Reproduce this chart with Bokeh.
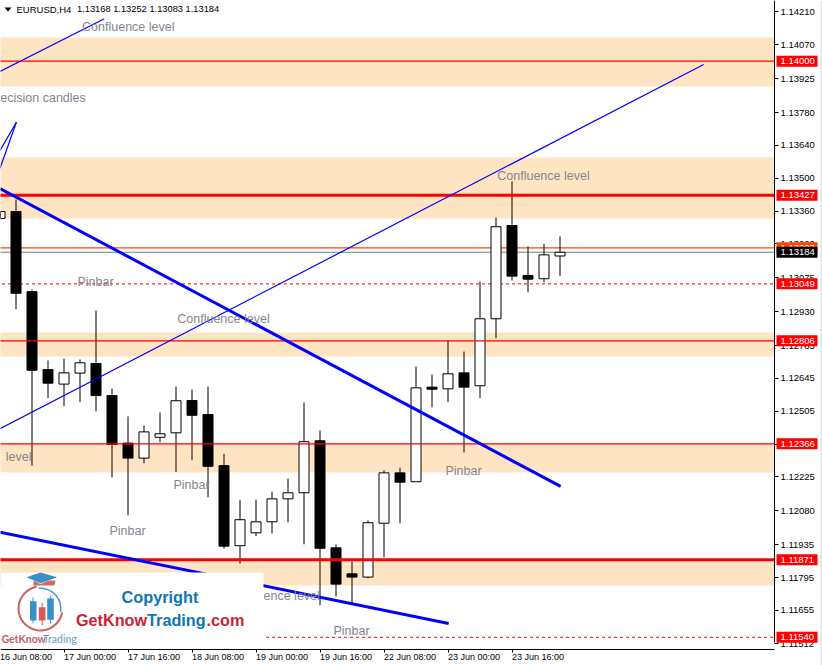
import math
from bokeh.plotting import figure
from bokeh.embed import file_html
from bokeh.resources import INLINE
from bokeh.core.properties import value
from bokeh.models import (ColumnDataSource, FixedTicker, NumeralTickFormatter, Label, LabelSet,
                          BoxAnnotation, PolyAnnotation)

# ---- data ----
opens = [1.13328,1.13358,1.13016,1.12683,1.12621,1.12668,1.12709,1.12572,1.12369,1.12305,1.12394,1.12413,
         1.12551,1.12491,1.12273,1.11931,1.11986,1.12033,1.12131,1.12157,1.12379,1.11922,1.11811,1.11797,
         1.12027,1.12242,1.12204,1.12608,1.12601,1.12669,1.12614,1.12900,1.13298,1.13085,1.13071,1.13168]
highs = [1.13358,1.13409,1.13025,1.12722,1.12730,1.12726,1.12935,1.12602,1.12483,1.12444,1.12500,1.12610,
         1.12598,1.12610,1.12323,1.12127,1.12128,1.12162,1.12218,1.12543,1.12423,1.11936,1.11864,1.12039,
         1.12252,1.12264,1.12696,1.12662,1.12807,1.12760,1.13059,1.13332,1.13486,1.13209,1.13220,1.13252]
lows = [1.13328,1.12941,1.12273,1.12561,1.12527,1.12544,1.12505,1.12223,1.12061,1.12283,1.12373,1.12245,
        1.12296,1.12138,1.11919,1.11854,1.11972,1.11984,1.12031,1.11937,1.11677,1.11714,1.11683,1.11792,
        1.11882,1.12027,1.12204,1.12522,1.12544,1.12329,1.12561,1.12817,1.13063,1.13013,1.13056,1.13083]
closes = [1.13358,1.13009,1.12680,1.12625,1.12669,1.12712,1.12572,1.12364,1.12305,1.12417,1.12409,1.12550,
          1.12488,1.12270,1.11929,1.12042,1.12033,1.12131,1.12157,1.12375,1.11920,1.11767,1.11797,1.12029,
          1.12242,1.12202,1.12605,1.12599,1.12665,1.12608,1.12900,1.13293,1.13082,1.13069,1.13173,1.13184]

zone_tops = [1.14101,1.13589,1.12841,1.12366,1.11871]
zone_bottoms = [1.13892,1.13328,1.12739,1.12244,1.11761]

thin_levels = [1.14000,1.12806,1.12366]
thick_levels = [1.13427,1.11871]
dashed_levels = [1.13049,1.11540]
ask_level = 1.13203
bid_level = 1.13184

y_ticks = [1.14210,1.14070,1.13925,1.13780,1.13640,1.13500,1.13360,1.13220,1.13075,1.12930,1.12785,1.12645,
           1.12505,1.12365,1.12225,1.12080,1.11935,1.11795,1.11655,1.11512]
time_ticks = [0,4,8,12,16,20,24,28,32]
time_labels = ["16 Jun 08:00","17 Jun 00:00","17 Jun 16:00","18 Jun 08:00","19 Jun 00:00",
               "19 Jun 16:00","22 Jun 08:00","23 Jun 00:00","23 Jun 16:00"]

thin_x0 = [0.0,0.0,0.0,0.0]
thin_y0 = [1.13956,1.13542,1.13619,1.12431]
thin_x1 = [6.52,1.025,1.025,43.98]
thin_y1 = [1.14181,1.13739,1.13739,1.13986]
thick_x0 = [0.0,0.0]
thick_y0 = [1.13456,1.11989]
thick_x1 = [35.04,28.04]
thick_y1 = [1.12184,1.11599]

note_text = ["Confluence level","ecision candles","Pinbar","Confluence level","level","Pinbar",
             "Pinbar","ence level","Pinbar","Pinbar","Confluence level"]
note_x = [5.13,0.02,4.84,11.08,0.36,10.84,6.84,16.47,20.84,27.84,31.08]
note_y = [1.14144,1.13841,1.13055,1.12897,1.12309,1.12192,1.11992,1.11718,1.11566,1.12248,1.13509]

# ---- layout constants ----
W, H = 822, 665
X0 = 0.5 / 16
X_LEFT = -1
X_AXIS = 774.5 / 16
X1 = 822.5 / 16
Y_TOP = 1.14259
PRICE_PER_PX = 0.0000427
Y_BOT = Y_TOP - H * PRICE_PER_PX
Y_AXIS = Y_TOP - 648.5 * PRICE_PER_PX
BODY = 10 / 16
ZONE = "#FFE4C4"
BLUE = "#0000FF"
RED = "#FF0000"
TICK_FONT = "Liberation Sans"

p = figure(width=W, height=H, output_backend="svg", toolbar_location=None,
           x_range=(X0, X1), y_range=(Y_BOT, Y_TOP), x_axis_location="below", y_axis_location="right",
           min_border=0, min_border_left=0, min_border_right=0, min_border_top=0, min_border_bottom=0,
           background_fill_color="white", border_fill_color="white", outline_line_color=None)
p.grid.visible = False

ax = p.yaxis[0]
ax.fixed_location = X_AXIS
ax.ticker = FixedTicker(ticks=y_ticks)
ax.formatter = NumeralTickFormatter(format="0.00000")
ax.major_tick_in = 0
ax.major_tick_out = 4
ax.minor_tick_in = 0
ax.minor_tick_out = 0
ax.major_label_standoff = 2
ax.major_label_text_font = TICK_FONT
ax.major_label_text_font_size = "9.5px"
ax.major_label_text_color = "black"
ax.axis_line_color = "black"
ax.major_tick_line_color = "black"
ax.bounds = (1.11518, Y_TOP)

bx = p.xaxis[0]
bx.fixed_location = Y_AXIS
bx.ticker = FixedTicker(ticks=time_ticks)
bx.major_label_overrides = {t: "" for t in time_ticks}
bx.major_tick_in = 0
bx.major_tick_out = 3
bx.minor_tick_in = 0
bx.minor_tick_out = 0
bx.axis_line_color = "black"
bx.bounds = (X0, X_AXIS)

# zones
p.quad(left=X_LEFT, right=X_AXIS, top=zone_tops, bottom=zone_bottoms, fill_color=ZONE, line_color=None)

# current-price and dashed levels sit behind the candles
p.segment(X_LEFT, ask_level, X_AXIS, ask_level, line_color="#FF4500", line_width=1.2)
p.segment(X_LEFT, bid_level, X_AXIS, bid_level, line_color="#708090", line_width=1.2)
p.segment([X_LEFT] * 2, dashed_levels, [X_AXIS] * 2, dashed_levels, line_color=RED, line_width=1, line_dash="3 3")

# candles
idx = list(range(len(opens)))
p.segment(idx, highs, idx, lows, line_color="black", line_width=1)
up = [i for i in idx if closes[i] >= opens[i]]
dn = [i for i in idx if closes[i] < opens[i]]
p.vbar(up, BODY, [closes[i] for i in up], [opens[i] for i in up],
       fill_color="white", line_color="black", line_width=1)
p.vbar(dn, BODY, [opens[i] for i in dn], [closes[i] for i in dn],
       fill_color="black", line_color="black", line_width=1)

# levels on top of candles
p.segment([X_LEFT] * 3, thin_levels, [X_AXIS] * 3, thin_levels, line_color=RED, line_width=1.2)
p.segment([X_LEFT] * 2, thick_levels, [X_AXIS] * 2, thick_levels, line_color=RED, line_width=3)

# trend lines
p.segment(thin_x0, thin_y0, thin_x1, thin_y1, line_color=BLUE, line_width=1.2)
p.segment(thick_x0, thick_y0, thick_x1, thick_y1, line_color=BLUE, line_width=3)

# notes
p.text(note_x, note_y, text=note_text, text_font=value("Liberation Sans"), text_font_size="12.5px",
       text_color="#85858f", text_align="left", text_baseline="middle")


def sy(ypx):
    return H - ypx


def box(l, t, r, b, color):
    p.add_layout(BoxAnnotation(left=l, right=r, top=sy(t), bottom=sy(b), left_units="screen", right_units="screen",
                               top_units="screen", bottom_units="screen", fill_color=color, fill_alpha=1,
                               line_color=None, level="overlay", editable=False))


def poly(points, color):
    p.add_layout(PolyAnnotation(xs=[a for a, _ in points], ys=[sy(b) for _, b in points], xs_units="screen",
                                ys_units="screen", fill_color=color, fill_alpha=1, line_color=None, level="overlay"))


def label(x, y, text, color, size, font="Liberation Sans", style="normal"):
    p.add_layout(Label(x=x, y=sy(y), x_units="screen", y_units="screen", text=text, text_color=color,
                       text_font=font, text_font_size=size, text_font_style=style, text_align="left",
                       text_baseline="middle", level="overlay"))


def ring(cx, cy, r0, r1, a0, a1, color):
    n = 32
    angs = [math.radians(a0 + (a1 - a0) * k / n) for k in range(n + 1)]
    outer = [(cx + r1 * math.cos(a), cy - r1 * math.sin(a)) for a in angs]
    inner = [(cx + r0 * math.cos(a), cy - r0 * math.sin(a)) for a in reversed(angs)]
    poly(outer + inner, color)


# price flags
flags = [(1.14000, "1.14000", RED, "white"), (1.13427, "1.13427", RED, "white"),
         (ask_level, "1.13203", "#FF4500", "white"), (bid_level, "1.13184", "black", "white"),
         (1.13049, "1.13049", RED, "white"), (1.12806, "1.12806", RED, "white"),
         (1.12366, "1.12366", RED, "white"), (1.11871, "1.11871", RED, "white"), (1.11540, "1.11540", RED, "white")]
for price, txt, bg, fg in flags:
    yp = (Y_TOP - price) / PRICE_PER_PX
    box(776, yp - 5.5, 817, yp + 5.5, bg)
    label(780, yp, txt, fg, "9.5px", TICK_FONT)

# window edge strip
box(820, 0, 822, 665, "#e4e4e4")

# header
poly([(4, 7), (11, 7), (7.5, 11)], "black")
label(16, 8.5, "EURUSD,H4", "black", "9.5px", TICK_FONT)
label(76.5, 8.5, "1.13168 1.13252 1.13083 1.13184", "black", "9.3px", TICK_FONT)

# time labels
time_src = ColumnDataSource(dict(x=time_ticks, y=[sy(656.5)] * len(time_ticks), t=time_labels))
p.add_layout(LabelSet(x="x", y="y", y_units="screen", text="t", source=time_src, text_font=value(TICK_FONT),
                      text_font_size="9px", text_color="black", text_align="left", text_baseline="middle",
                      level="overlay"))

# watermark logo
box(1, 572, 263, 647.5, "white")
poly([(26, 576.7), (40, 572), (56.7, 576.7), (40, 582.7)], "#3a8fc4")
poly([(33, 580), (40, 583.5), (48, 580), (55, 580), (54, 585), (33, 585)], "#d06a6a")
ring(40, 608, 21, 23, 100, 350, "#d45c5c")
ring(40, 608, 19.5, 21, -10, 95, "#4a9ac8")
box(32, 597, 33, 623, "#3a8fc4")
box(29.5, 600.7, 36, 620, "#3a8fc4")
box(41.2, 602, 42.2, 625, "#d45c5c")
box(38.3, 606.7, 45, 620, "#d45c5c")
box(49.6, 595, 50.6, 623, "#3a8fc4")
box(46.7, 598, 53.3, 619.3, "#3a8fc4")
label(1, 638, "GetKnow", "#c0606a", "10.5px", "Lato", "bold")
label(42.5, 638, "Trading", "#5aa2c4", "10.5px", "Lato")
label(121, 596.7, "Copyright", "#0f75b5", "16.3px", "Liberation Sans", "bold")
label(75.5, 619, "GetKnow", "#d01f35", "16.2px", "Liberation Sans", "bold")
label(146.6, 619, "Trading", "#0f75b5", "16.2px", "Liberation Sans", "bold")
label(206, 619, ".com", "#d01f35", "16.2px", "Liberation Sans", "bold")

open("out.html", "w").write(file_html(p, INLINE))
